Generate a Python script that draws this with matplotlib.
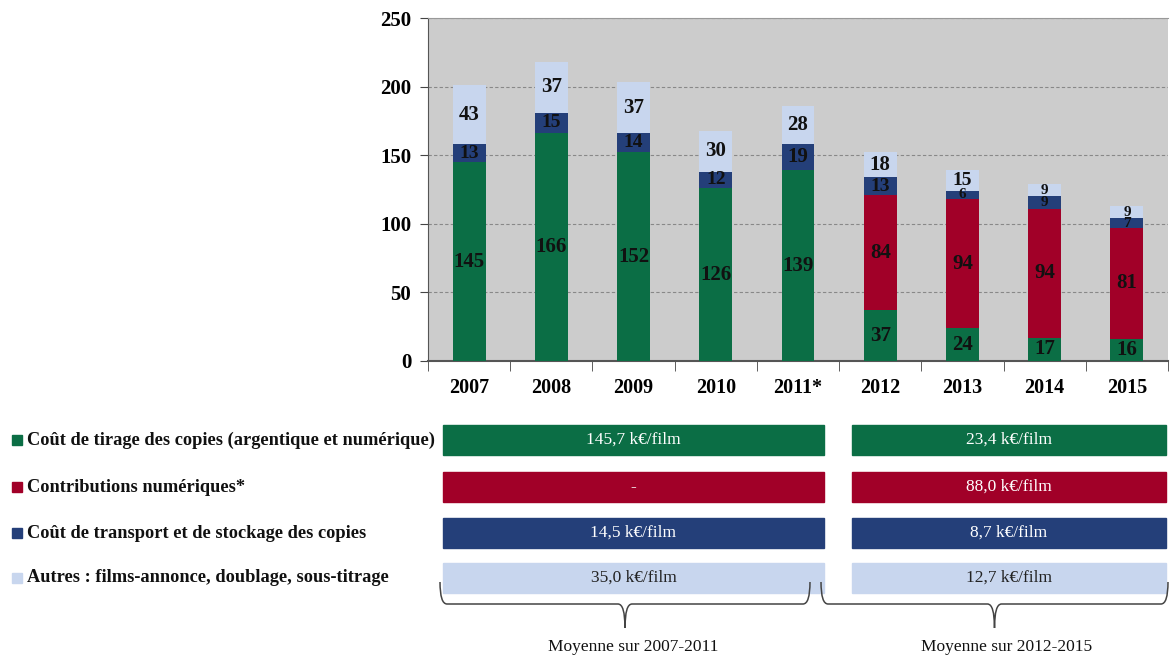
import matplotlib.pyplot as plt
import numpy as np
from matplotlib.path import Path
from matplotlib.patches import PathPatch, Rectangle

plt.rcParams['font.family'] = ['Liberation Serif', 'DejaVu Serif']

annees = ['2007', '2008', '2009', '2010', '2011*', '2012', '2013', '2014', '2015']
tirage = [145, 166, 152, 126, 139, 37, 24, 17, 16]
contributions = [0, 0, 0, 0, 0, 84, 94, 94, 81]
transport = [13, 15, 14, 12, 19, 13, 6, 9, 7]
autres = [43, 37, 37, 30, 28, 18, 15, 9, 9]

series_noms = ['Coût de tirage des copies (argentique et numérique)',
               'Contributions numériques*',
               'Coût de transport et de stockage des copies',
               'Autres : films-annonce, doublage, sous-titrage']
couleurs = ['#0B6E45', '#A10028', '#243F79', '#C8D6EE']

periodes = ['Moyenne sur 2007-2011', 'Moyenne sur 2012-2015']
moy_2007_2011 = ['145,7 k€/film', '-', '14,5 k€/film', '35,0 k€/film']
moy_2012_2015 = ['23,4 k€/film', '88,0 k€/film', '8,7 k€/film', '12,7 k€/film']

W, H = 1171, 656
fig = plt.figure(figsize=(W / 100, H / 100), dpi=100)

# --- graphique principal
ax = fig.add_axes([428 / W, 1 - 361 / H, 740 / W, 343 / H])
ax.set_facecolor('#CCCCCC')
x = np.arange(len(annees))
bas = np.zeros(len(annees))
for vals, col in zip([tirage, contributions, transport, autres], couleurs):
    vals = np.array(vals, dtype=float)
    ax.bar(x, vals, 0.4, bottom=bas, color=col, zorder=3)
    for xi, b, v in zip(x, bas, vals):
        if v > 0:
            # petits segments : police reduite (etiquettes serrees)
            fs = 11 if v < 10 else (14 if v < 16 else 15)
            ax.text(xi, b + v / 2, str(int(v)), ha='center', va='center',
                    fontsize=fs, fontweight='bold', color='#111111', zorder=4)
    bas += vals

ax.set_xlim(-0.5, len(annees) - 0.5)
ax.set_ylim(0, 250)
ax.set_yticks(range(0, 251, 50))
ax.yaxis.grid(True, linestyle=(0, (3, 2)), color='#888888', linewidth=0.8, zorder=0)
ax.set_xticks(x)
ax.set_xticklabels(annees, fontsize=14.5, fontweight='bold')
ax.set_xticks(np.arange(-0.5, len(annees), 1), minor=True)
ax.tick_params(axis='x', which='major', length=0, pad=12)
ax.tick_params(axis='x', which='minor', length=7, color='#444444')
ax.tick_params(axis='y', length=6, color='#444444', labelsize=15, pad=6)
for lab in ax.get_yticklabels():
    lab.set_fontweight('bold')
ax.spines['right'].set_visible(False)
ax.spines['top'].set_color('#999999')
ax.spines['left'].set_color('#555555')
ax.spines['bottom'].set_color('#555555')
ax.spines['bottom'].set_linewidth(1.5)

# --- tableau des moyennes (coordonnees en pixels)
bx = fig.add_axes([0, 0, 1, 1])
bx.set_xlim(0, W)
bx.set_ylim(H, 0)
bx.axis('off')

lignes_y = [440, 487, 533, 578]
groupes = [(443, 824, moy_2007_2011), (852, 1166, moy_2012_2015)]
for i, (yc, nom, col) in enumerate(zip(lignes_y, series_noms, couleurs)):
    bx.add_patch(Rectangle((12, yc - 5), 10, 10, color=col))
    bx.text(27, yc, nom, ha='left', va='center', fontsize=13.2,
            fontweight='bold', color='#111111')
    txt_col = '#222222' if i == 3 else 'white'
    for x0, x1, vals in groupes:
        bx.add_patch(Rectangle((x0, yc - 15), x1 - x0, 30, color=col))
        bx.text((x0 + x1) / 2, yc, vals[i], ha='center', va='center',
                fontsize=12.5, color=txt_col)


def accolade(x0, x1, y0=582, y1=604, y2=628):
    xm = (x0 + x1) / 2
    verts = [(x0, y0), (x0, y1), (x0 + 7, y1),
             (xm - 7, y1), (xm, y1), (xm, y2),
             (xm, y2), (xm, y1), (xm + 7, y1),
             (x1 - 7, y1), (x1, y1), (x1, y0)]
    codes = [Path.MOVETO, Path.CURVE3, Path.CURVE3,
             Path.LINETO, Path.CURVE3, Path.CURVE3,
             Path.MOVETO, Path.CURVE3, Path.CURVE3,
             Path.LINETO, Path.CURVE3, Path.CURVE3]
    bx.add_patch(PathPatch(Path(verts, codes), fill=False, color='#444444', lw=1.1))


accolade(440, 810)
accolade(821, 1168)
bx.text(633, 647, periodes[0], ha='center', va='center', fontsize=12.5, color='#111111')
bx.text(1007, 647, periodes[1], ha='center', va='center', fontsize=12.5, color='#111111')

fig.savefig('out.png', dpi=100)
